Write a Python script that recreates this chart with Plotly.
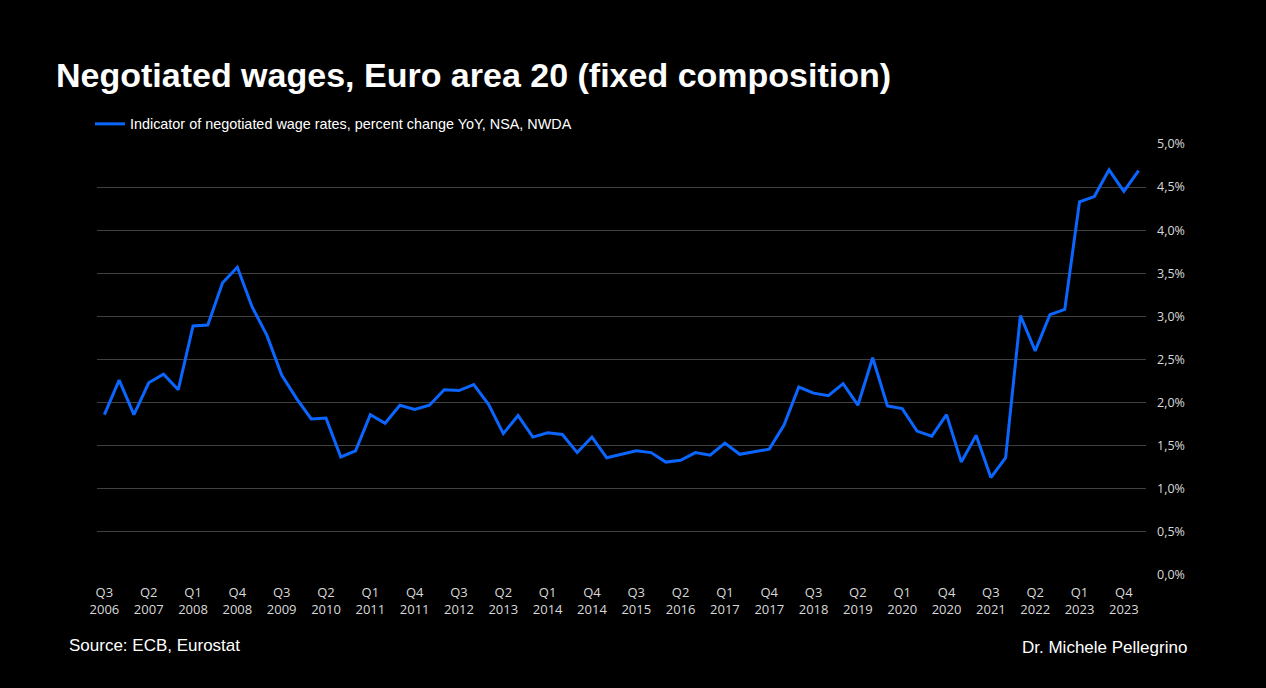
import plotly.graph_objects as go

quarters = []
for y in range(2006, 2025):
    for q in range(1, 5):
        if (y == 2006 and q < 3) or (y == 2024 and q > 1):
            continue
        quarters.append(f"Q{q} {y}")

values = [1.86, 2.26, 1.86, 2.23, 2.33, 2.15, 2.89, 2.90, 3.39, 3.57,
          3.11, 2.78, 2.32, 2.05, 1.81, 1.82, 1.37, 1.44, 1.86, 1.76,
          1.97, 1.92, 1.97, 2.15, 2.14, 2.21, 1.98, 1.64, 1.85, 1.60,
          1.65, 1.63, 1.42, 1.60, 1.36, 1.40, 1.44, 1.42, 1.31, 1.33,
          1.42, 1.39, 1.53, 1.40, 1.43, 1.46, 1.74, 2.18, 2.11, 2.08,
          2.22, 1.97, 2.52, 1.96, 1.93, 1.67, 1.61, 1.86, 1.31, 1.62,
          1.13, 1.36, 3.01, 2.60, 3.02, 3.08, 4.33, 4.39, 4.70, 4.45,
          4.69]

series_name = "Indicator of negotiated wage rates, percent change YoY, NSA, NWDA"
y_ticks = [0.0, 0.5, 1.0, 1.5, 2.0, 2.5, 3.0, 3.5, 4.0, 4.5, 5.0]
y_ticktext = [f"{v:.1f}%".replace(".", ",") for v in y_ticks]

x_idx = list(range(len(quarters)))
x_tickvals = x_idx[::3]
x_ticktext = [quarters[i].replace(" ", "<br>") for i in x_tickvals]

fig = go.Figure()
fig.add_trace(go.Scatter(
    x=x_idx, y=values, mode="lines", name=series_name,
    line=dict(color="#0A66FF", width=3),
))

fig.update_layout(
    width=1266, height=688,
    paper_bgcolor="black", plot_bgcolor="black",
    margin=dict(l=97, r=120, t=144, b=113),
    showlegend=True,
    legend=dict(
        orientation="h", x=-0.0067, y=1.0464, xanchor="left", yanchor="middle",
        xref="paper", yref="paper",
        font=dict(family="Liberation Sans, Arial, sans-serif", size=14.4, color="white"),
        bgcolor="rgba(0,0,0,0)", itemwidth=30,
    ),
    annotations=[
        dict(text="<b>Negotiated wages, Euro area 20 (fixed composition)</b>",
             xref="paper", yref="paper", x=-0.041, y=1.0, xanchor="left", yanchor="bottom",
             yshift=48, showarrow=False,
             font=dict(family="Liberation Sans, Arial, sans-serif", size=34, color="white")),
        dict(text="Source: ECB, Eurostat", xref="paper", yref="paper",
             x=-0.029, y=0, xanchor="left", yanchor="middle", yshift=-70, showarrow=False,
             font=dict(family="Liberation Sans, Arial, sans-serif", size=17, color="white")),
        dict(text="Dr. Michele Pellegrino", xref="paper", yref="paper",
             x=1.0, y=0, xanchor="right", yanchor="middle", xshift=43, yshift=-72, showarrow=False,
             font=dict(family="Liberation Sans, Arial, sans-serif", size=17, color="white")),
    ],
)

fig.update_xaxes(
    range=[-0.5, len(quarters) - 0.5],
    tickmode="array", tickvals=x_tickvals, ticktext=x_ticktext,
    showgrid=False, zeroline=False, showline=False, ticks="",
    ticklabelstandoff=8,
    tickfont=dict(family="Open Sans, sans-serif", size=13, color="#D9D9D9"),
)
fig.update_yaxes(
    range=[0, 5.0], side="right",
    tickmode="array", tickvals=y_ticks, ticktext=y_ticktext,
    showgrid=True, gridcolor="#404040", gridwidth=1,
    zeroline=False, showline=False, ticks="", ticklabelstandoff=10,
    tickfont=dict(family="Open Sans, sans-serif", size=12.5, color="#D9D9D9"),
)

fig.write_html("out.html")
